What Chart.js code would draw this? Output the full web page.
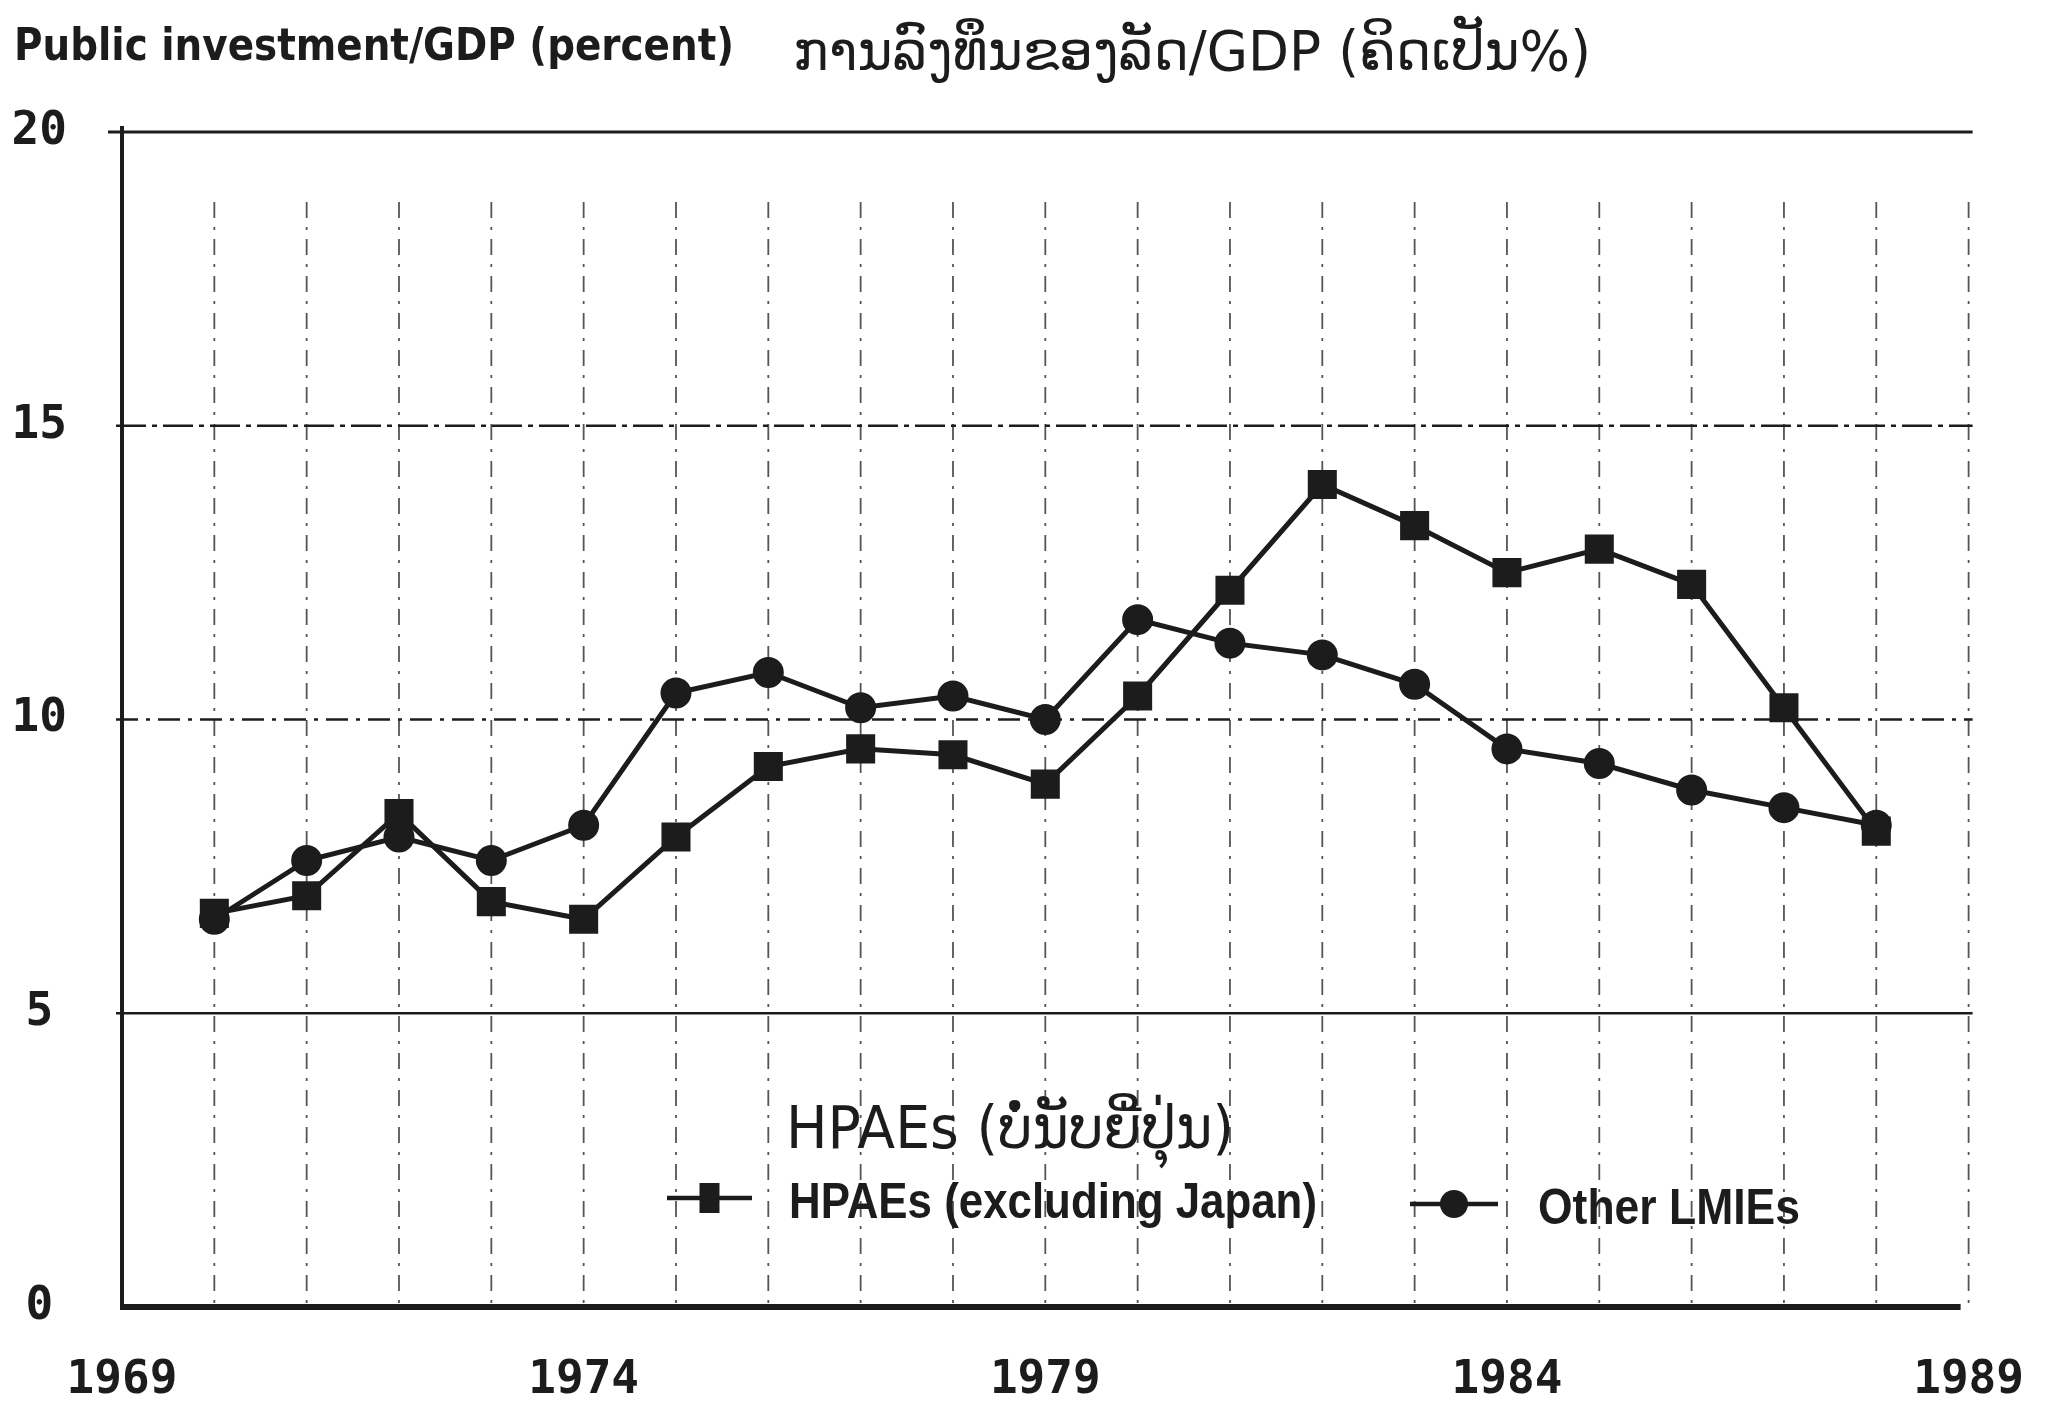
<!DOCTYPE html>
<html lang="lo">
  <head>
    <meta charset="utf-8">
    <title>Public investment/GDP</title>
    <script src="https://cdn.jsdelivr.net/npm/chart.js@4.4.0/dist/chart.umd.min.js"></script>
    <style>
      html, body { margin: 0; padding: 0; background: #fff; }
      #wrap { width: 2070px; height: 1427px; }
    </style>
  </head>
  <body>
    <div id="wrap"><canvas id="investChart" width="2070" height="1427"></canvas></div>

    <script type="text/javascript">
        // data
        var years = [1970, 1971, 1972, 1973, 1974, 1975, 1976, 1977, 1978, 1979,
                     1980, 1981, 1982, 1983, 1984, 1985, 1986, 1987, 1988];
        var hpaeValues = [6.7, 7.0, 8.4, 6.9, 6.6, 8.0, 9.2, 9.5, 9.4, 8.9,
                          10.4, 12.2, 14.0, 13.3, 12.5, 12.9, 12.3, 10.2, 8.1];
        var lmieValues = [6.6, 7.6, 8.0, 7.6, 8.2, 10.45, 10.8, 10.2, 10.4, 10.0,
                          11.7, 11.3, 11.1, 10.6, 9.5, 9.25, 8.8, 8.5, 8.2];
        var yTickValues = [0, 5, 10, 15, 20];
        var xTickLabels = [1969, 1974, 1979, 1984, 1989];

        var titleEn = 'Public investment/GDP (percent)';
        var titleLao = 'ການລົງທຶນຂອງລັດ/GDP (ຄິດເປັນ%)';
        var legendTitle = 'HPAEs (ບໍ່ນັບຍີ່ປຸ່ນ)';
        var seriesNames = ['HPAEs (excluding Japan)', 'Other LMIEs'];

        var ink = '#1c1c1c';
        var tickFont = '"DejaVu Sans Mono", monospace';

        function toPoints(values) {
            return years.map(function (y, i) { return {x: y, y: values[i]}; });
        }

        // text squeezed horizontally to a given width, like the scanned lettering
        function fitText(ctx, text, x, y, width, font) {
            ctx.save();
            ctx.font = font;
            var w = ctx.measureText(text).width;
            ctx.translate(x, y);
            ctx.scale(width / w, 1);
            ctx.textAlign = 'left';
            ctx.textBaseline = 'alphabetic';
            ctx.fillText(text, 0, 0);
            ctx.restore();
        }

        var paperPlugin = {
            id: 'paper',
            beforeDraw: function (chart) {
                var ctx = chart.ctx;
                ctx.save();
                ctx.fillStyle = '#ffffff';
                ctx.fillRect(0, 0, chart.width, chart.height);
                ctx.restore();
            }
        };

        var gridPlugin = {
            id: 'scanGrid',
            beforeDatasetsDraw: function (chart) {
                var ctx = chart.ctx;
                var a = chart.chartArea;
                var xs = chart.scales.x, ys = chart.scales.y;
                ctx.save();
                ctx.strokeStyle = '#555555';
                ctx.lineWidth = 1.8;
                ctx.setLineDash([16, 9, 3, 9]);
                for (var yr = xTickLabels[0] + 1; yr <= xTickLabels[xTickLabels.length - 1]; yr++) {
                    var px = xs.getPixelForValue(yr);
                    ctx.beginPath();
                    ctx.moveTo(px, a.top + 70);
                    ctx.lineTo(px, a.bottom);
                    ctx.stroke();
                }
                // horizontal lines, each drawn a little differently as in the print
                var styles = {
                    5: {dash: [], width: 2.5},
                    10: {dash: [22, 8, 4, 8], width: 2.5},
                    15: {dash: [30, 6, 5, 6], width: 2.5},
                    20: {dash: [], width: 3}
                };
                ctx.strokeStyle = ink;
                yTickValues.forEach(function (v) {
                    if (!styles[v]) return;
                    var py = ys.getPixelForValue(v);
                    ctx.lineWidth = styles[v].width;
                    ctx.setLineDash(styles[v].dash);
                    ctx.beginPath();
                    ctx.moveTo(a.left - (v === 20 ? 14 : 6), py);
                    ctx.lineTo(a.right + 4, py);
                    ctx.stroke();
                });
                ctx.setLineDash([]);
                // axes
                ctx.lineWidth = 4;
                ctx.beginPath();
                ctx.moveTo(a.left, ys.getPixelForValue(20) - 6);
                ctx.lineTo(a.left, a.bottom);
                ctx.stroke();
                ctx.lineWidth = 6;
                ctx.beginPath();
                ctx.moveTo(a.left - 2, ys.getPixelForValue(0));
                ctx.lineTo(a.right - 8, ys.getPixelForValue(0));
                ctx.stroke();
                ctx.restore();
            }
        };

        var titlePlugin = {
            id: 'scanTitle',
            afterDraw: function (chart) {
                var ctx = chart.ctx;
                ctx.save();
                ctx.fillStyle = ink;
                fitText(ctx, titleEn, 14, 60, 720, 'bold 44px "DejaVu Sans", sans-serif');
                fitText(ctx, titleLao, 793, 70, 798, '56px "DejaVu Sans", sans-serif');
                ctx.restore();
            }
        };

        var legendPlugin = {
            id: 'scanLegend',
            afterDraw: function (chart) {
                var ctx = chart.ctx;
                var ds = chart.data.datasets;
                ctx.save();
                ctx.fillStyle = ink;
                ctx.strokeStyle = ink;
                fitText(ctx, legendTitle, 786, 1148, 448, '58px "DejaVu Sans", sans-serif');

                var items = [
                    {x0: 667, x1: 752, y: 1198, textX: 789, textW: 528, textY: 1218},
                    {x0: 1410, x1: 1498, y: 1204, textX: 1538, textW: 262, textY: 1224}
                ];
                items.forEach(function (it, i) {
                    ctx.lineWidth = 4.5;
                    ctx.beginPath();
                    ctx.moveTo(it.x0, it.y);
                    ctx.lineTo(it.x1, it.y);
                    ctx.stroke();
                    var cx = (it.x0 + it.x1) / 2;
                    if (ds[i].pointStyle === 'rect') {
                        ctx.fillRect(cx - 10, it.y - 15, 20, 30);
                    } else {
                        ctx.beginPath();
                        ctx.arc(cx, it.y, 14, 0, Math.PI * 2);
                        ctx.fill();
                    }
                    fitText(ctx, ds[i].label, it.textX, it.textY, it.textW, 'bold 50px "Liberation Sans", sans-serif');
                });
                ctx.restore();
            }
        };

        var ctx = document.getElementById('investChart').getContext('2d');
        var chart = new Chart(ctx, {
            type: 'line',
            data: {
                datasets: [{
                    label: seriesNames[0],
                    data: toPoints(hpaeValues),
                    borderColor: ink,
                    backgroundColor: ink,
                    borderWidth: 5,
                    pointStyle: 'rect',
                    pointRadius: 17,
                    pointBackgroundColor: ink,
                    pointBorderColor: ink,
                    tension: 0
                }, {
                    label: seriesNames[1],
                    data: toPoints(lmieValues),
                    borderColor: ink,
                    backgroundColor: ink,
                    borderWidth: 5,
                    pointStyle: 'circle',
                    pointRadius: 13,
                    pointBackgroundColor: ink,
                    pointBorderColor: ink,
                    tension: 0
                }]
            },
            options: {
                responsive: false,
                animation: false,
                events: [],
                layout: {padding: {left: 12, top: 132, right: 80, bottom: 0}},
                plugins: {
                    legend: {display: false},
                    tooltip: {enabled: false},
                    title: {display: false}
                },
                scales: {
                    x: {
                        type: 'linear',
                        min: 1969,
                        max: 1989,
                        grid: {display: false, drawTicks: false},
                        border: {display: false},
                        afterBuildTicks: function (scale) {
                            scale.ticks = xTickLabels.map(function (v) { return {value: v}; });
                        },
                        afterFit: function (scale) { scale.height = 120; },
                        ticks: {
                            autoSkip: false,
                            maxRotation: 0,
                            padding: 46,
                            color: ink,
                            font: {family: tickFont, size: 46, weight: 'bold'},
                            callback: function (v) { return String(v); }
                        }
                    },
                    y: {
                        min: 0,
                        max: 20,
                        grid: {display: false, drawTicks: false},
                        border: {display: false},
                        afterBuildTicks: function (scale) {
                            scale.ticks = yTickValues.map(function (v) { return {value: v}; });
                        },
                        afterFit: function (scale) { scale.width = 110; },
                        ticks: {
                            crossAlign: 'center',
                            padding: 55,
                            color: ink,
                            font: {family: tickFont, size: 46, weight: 'bold'}
                        }
                    }
                }
            },
            plugins: [paperPlugin, gridPlugin, titlePlugin, legendPlugin]
        });
    </script>
  </body>
</html>
